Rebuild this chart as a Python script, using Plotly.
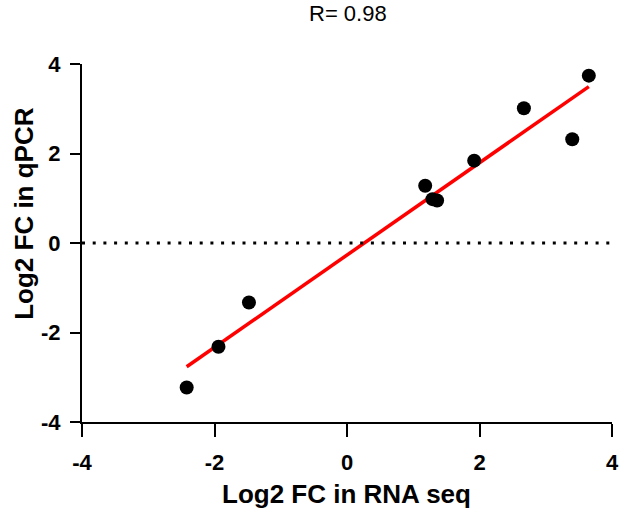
import numpy as np
import plotly.graph_objects as go

# Data
rna_seq = [-2.42, -1.94, -1.48, 1.18, 1.29, 1.36, 1.92, 2.67, 3.40, 3.65]
qpcr = [-3.23, -2.32, -1.33, 1.28, 0.98, 0.95, 1.84, 3.01, 2.32, 3.74]
tick_vals = [-4, -2, 0, 2, 4]
tick_text = ["-4", "-2", "0", "2", "4"]
title_text = "R= 0.98"
x_title = "Log2 FC in RNA seq"
y_title = "Log2 FC in qPCR"

slope, intercept = np.polyfit(rna_seq, qpcr, 1)
fit_x = [min(rna_seq), max(rna_seq)]
fit_y = [slope * v + intercept for v in fit_x]

FONT = "Arial, Liberation Sans, sans-serif"

fig = go.Figure()
fig.add_trace(go.Scatter(x=fit_x, y=fit_y, mode="lines",
                         line=dict(color="#FF0000", width=3.5),
                         hoverinfo="skip", cliponaxis=False))
fig.add_trace(go.Scatter(x=rna_seq, y=qpcr, mode="markers",
                         marker=dict(color="black", size=14),
                         cliponaxis=False))

fig.add_shape(type="line", xref="x", yref="y", x0=-4, x1=4, y0=0, y1=0,
              line=dict(color="black", width=3, dash="3px,7.7px"))

fig.update_layout(
    width=628, height=515,
    margin=dict(l=82, r=9, t=64, b=93),
    paper_bgcolor="white", plot_bgcolor="white",
    showlegend=False,
    font=dict(family=FONT, color="black"),
    xaxis=dict(range=[-4, 4], tickvals=tick_vals, ticktext=tick_text,
               showgrid=False, zeroline=False,
               showline=True, linecolor="black", linewidth=2,
               ticks="outside", ticklen=13, tickwidth=2, tickcolor="black",
               ticklabelstandoff=7,
               tickfont=dict(size=22, family=FONT, weight="bold", color="black")),
    yaxis=dict(range=[-4, 4], tickvals=tick_vals, ticktext=tick_text,
               showgrid=False, zeroline=False,
               showline=True, linecolor="black", linewidth=2,
               ticks="outside", ticklen=10, tickwidth=2, tickcolor="black",
               ticklabelstandoff=5,
               tickfont=dict(size=22, family=FONT, weight="bold", color="black")),
    annotations=[
        dict(text=title_text, xref="paper", yref="paper", x=0.501, y=1.141,
             xanchor="center", yanchor="middle", showarrow=False,
             font=dict(size=22, family=FONT, color="black")),
        dict(text=x_title, xref="paper", yref="paper", x=0.499, y=-0.201,
             xanchor="center", yanchor="middle", showarrow=False,
             font=dict(size=26, family=FONT, weight="bold", color="black")),
        dict(text=y_title, xref="paper", yref="paper", x=-0.111, y=0.582,
             xanchor="center", yanchor="middle", showarrow=False, textangle=-90,
             font=dict(size=26, family=FONT, weight="bold", color="black")),
    ],
)

fig.write_html("out.html",
               config={"displayModeBar": False},
               post_script="document.body.style.margin='0';"
                           "document.body.style.overflow='hidden';")
